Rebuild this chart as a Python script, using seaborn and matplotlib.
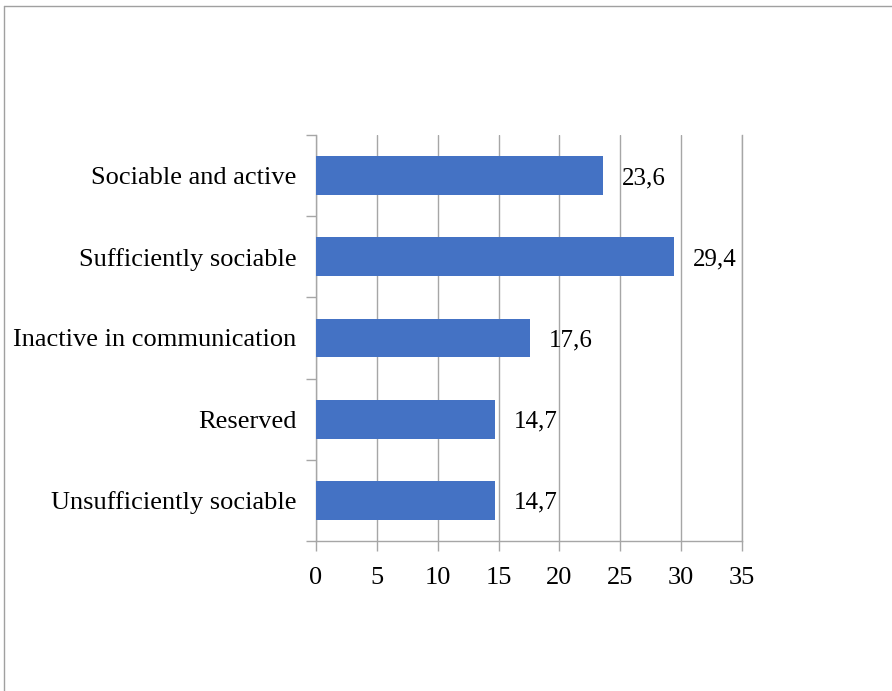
import matplotlib
matplotlib.use("Agg")
import matplotlib.pyplot as plt
import seaborn as sns
import pandas as pd
from matplotlib.lines import Line2D

categories = ["Sociable and active", "Sufficiently sociable", "Inactive in communication",
              "Reserved", "Unsufficiently sociable"]
values = [23.6, 29.4, 17.6, 14.7, 14.7]
xticks = [0, 5, 10, 15, 20, 25, 30, 35]

df = pd.DataFrame({"category": categories, "value": values})

sns.set_style("white")
plt.rcParams['font.family'] = ['Liberation Serif', 'DejaVu Serif']
plt.rcParams['text.color'] = 'black'
plt.rcParams['xtick.labelcolor'] = 'black'
plt.rcParams['ytick.labelcolor'] = 'black'

fig = plt.figure(figsize=(8.92, 6.91), dpi=100)
ax = fig.add_axes([316/892, 1-541/691, (742-316)/892, (541-135)/691])

sns.barplot(data=df, x="value", y="category", color="#4472C4", width=0.48,
            saturation=1, linewidth=0, ax=ax, zorder=3)

ax.set_xlim(0, 35)
ax.set_ylim(4.5, -0.5)
ax.set_xticks(xticks)
ax.set_xticklabels([str(t) for t in xticks])
ax.grid(axis="x", color="#A6A6A6", linewidth=1.0, zorder=0)
ax.set_axisbelow(True)
ax.set_xlabel("")
ax.set_ylabel("")

ax.spines["top"].set_visible(False)
for s in ["left", "bottom", "right"]:
    ax.spines[s].set_visible(True)
    ax.spines[s].set_color("#A6A6A6")
    ax.spines[s].set_linewidth(1.0)

ax.tick_params(axis="x", bottom=True, length=7, width=1, color="#A6A6A6", pad=12,
               labelsize=19, labelcolor="black")
ax.tick_params(axis="y", which="major", left=True, length=0, pad=14, labelsize=19,
               labelcolor="black")
ax.set_yticks([i - 0.5 for i in range(6)], minor=True)
ax.tick_params(axis="y", which="minor", left=True, length=7, width=1, color="#A6A6A6")

for i, v in enumerate(values):
    ax.text(v + 1.55, i, f"{v:.1f}".replace(".", ","), va="center_baseline", ha="left",
            fontsize=18, color="black")

fig.add_artist(Line2D([4/892, 1], [1-6/691, 1-6/691], color="#A0A0A0", linewidth=1.0,
                      transform=fig.transFigure))
fig.add_artist(Line2D([4/892, 4/892], [0, 1-6/691], color="#A0A0A0", linewidth=1.0,
                      transform=fig.transFigure))

fig.savefig("out.png", dpi=100)
